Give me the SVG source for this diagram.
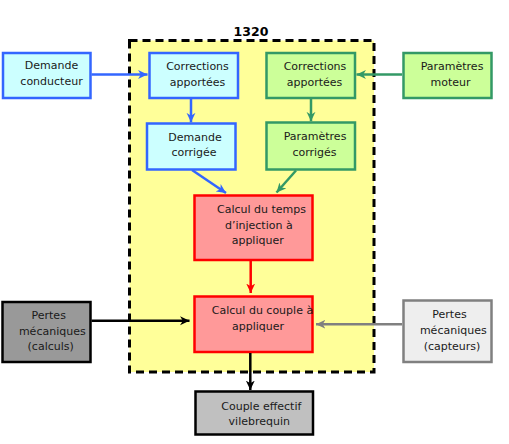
<svg xmlns="http://www.w3.org/2000/svg" width="509" height="444" viewBox="0 0 509 444">
<style>
text{font-family:"DejaVu Sans",sans-serif;font-size:11px;fill:#1a1a1a;text-anchor:middle}
.title{font-weight:bold;font-size:12.5px;fill:#000}
.b{fill:#ccffff;stroke:#3366ff;stroke-width:2.5}
.g{fill:#ccff99;stroke:#339966;stroke-width:2.5}
.r{fill:#ff9999;stroke:#ff0000;stroke-width:2.5}
.k1{fill:#999999;stroke:#000;stroke-width:2.5}
.k2{fill:#eeeeee;stroke:#808080;stroke-width:2.5}
.k3{fill:#c0c0c0;stroke:#000;stroke-width:2.5}
.c{fill:none;stroke-width:2.5}
</style>
<defs>
<marker id="ab" markerUnits="userSpaceOnUse" markerWidth="10" markerHeight="10" viewBox="0 0 9 9" refX="8.5" refY="4.5" orient="auto"><path d="M0,0.5 L8.5,4.5 L0,8.5 L2.5,4.5 z" fill="#3366ff"/></marker>
<marker id="ag" markerUnits="userSpaceOnUse" markerWidth="10" markerHeight="10" viewBox="0 0 9 9" refX="8.5" refY="4.5" orient="auto"><path d="M0,0.5 L8.5,4.5 L0,8.5 L2.5,4.5 z" fill="#339966"/></marker>
<marker id="ar" markerUnits="userSpaceOnUse" markerWidth="10" markerHeight="10" viewBox="0 0 9 9" refX="8.5" refY="4.5" orient="auto"><path d="M0,0.5 L8.5,4.5 L0,8.5 L2.5,4.5 z" fill="#ff0000"/></marker>
<marker id="ak" markerUnits="userSpaceOnUse" markerWidth="10" markerHeight="10" viewBox="0 0 9 9" refX="8.5" refY="4.5" orient="auto"><path d="M0,0.5 L8.5,4.5 L0,8.5 L2.5,4.5 z" fill="#000"/></marker>
<marker id="ay" markerUnits="userSpaceOnUse" markerWidth="10" markerHeight="10" viewBox="0 0 9 9" refX="8.5" refY="4.5" orient="auto"><path d="M0,0.5 L8.5,4.5 L0,8.5 L2.5,4.5 z" fill="#808080"/></marker>
</defs>

<g id="group1320">
<rect x="129.5" y="40.5" width="244.5" height="331.5" fill="#ffff99" stroke="#000" stroke-width="3" stroke-dasharray="8,5"/>
<text class="title" x="251" y="36">1320</text>
</g>

<g id="demande-conducteur">
<rect class="b" x="3" y="53" width="87.5" height="45"/>
<text x="51.5" y="69">Demande</text>
<text x="51.5" y="84.5">conducteur</text>
</g>

<g id="corrections-bleu">
<rect class="b" x="149.5" y="53" width="88.5" height="45"/>
<text x="197.5" y="70">Corrections</text>
<text x="197.5" y="85.5">apportées</text>
</g>

<g id="demande-corrigee">
<rect class="b" x="147" y="123.5" width="88.5" height="46"/>
<text x="195" y="141">Demande</text>
<text x="194" y="156">corrigée</text>
</g>

<g id="corrections-vert">
<rect class="g" x="266.5" y="53" width="88.5" height="45"/>
<text x="315" y="70">Corrections</text>
<text x="314.5" y="85.5">apportées</text>
</g>

<g id="parametres-moteur">
<rect class="g" x="403.5" y="53" width="88" height="45"/>
<text x="452" y="70">Paramètres</text>
<text x="450.5" y="85.5">moteur</text>
</g>

<g id="parametres-corriges">
<rect class="g" x="266.5" y="122.5" width="88.5" height="47"/>
<text x="315" y="140">Paramètres</text>
<text x="314.5" y="155.5">corrigés</text>
</g>

<g id="calcul-temps">
<rect class="r" x="194.5" y="195.5" width="118" height="64.5"/>
<text x="261.5" y="213">Calcul du temps</text>
<text x="258.8" y="228.5">d’injection à</text>
<text x="257.7" y="244">appliquer</text>
</g>

<g id="calcul-couple">
<rect class="r" x="194.5" y="296.5" width="118" height="55.5"/>
<text x="262.5" y="314">Calcul du couple à</text>
<text x="258" y="329.5">appliquer</text>
</g>

<g id="pertes-calculs">
<rect class="k1" x="2.5" y="302" width="88" height="60"/>
<text x="48.7" y="319">Pertes</text>
<text x="52.3" y="334.5">mécaniques</text>
<text x="50.7" y="349.5">(calculs)</text>
</g>

<g id="pertes-capteurs">
<rect class="k2" x="403.5" y="300.5" width="88" height="61.5"/>
<text x="449.5" y="318">Pertes</text>
<text x="453.3" y="334">mécaniques</text>
<text x="452" y="349.5">(capteurs)</text>
</g>

<g id="couple-effectif">
<rect class="k3" x="195.5" y="391.5" width="117.5" height="43"/>
<text x="261.3" y="409.5">Couple effectif</text>
<text x="259.3" y="424.5">vilebrequin</text>
</g>

<g id="connectors">
<line class="c" stroke="#3366ff" x1="91.5" y1="74.5" x2="147.5" y2="74.5" marker-end="url(#ab)"/>
<line class="c" stroke="#339966" x1="402" y1="74.5" x2="356.5" y2="74.5" marker-end="url(#ag)"/>
<line class="c" stroke="#3366ff" x1="191" y1="99" x2="191" y2="122.3" marker-end="url(#ab)"/>
<line class="c" stroke="#339966" x1="311" y1="99" x2="311" y2="121.3" marker-end="url(#ag)"/>
<line class="c" stroke="#3366ff" x1="192" y1="170" x2="226" y2="193" marker-end="url(#ab)"/>
<line class="c" stroke="#339966" x1="296" y1="170.5" x2="276.5" y2="192.5" marker-end="url(#ag)"/>
<line class="c" stroke="#ff0000" x1="250.7" y1="261" x2="250.7" y2="293" marker-end="url(#ar)"/>
<line class="c" stroke="#000" x1="91.5" y1="320.7" x2="189.5" y2="320.7" marker-end="url(#ak)"/>
<line class="c" stroke="#808080" x1="402" y1="324.3" x2="316" y2="324.3" marker-end="url(#ay)"/>
<line class="c" stroke="#000" x1="250.3" y1="353" x2="250.3" y2="390" marker-end="url(#ak)"/>
</g>
</svg>
